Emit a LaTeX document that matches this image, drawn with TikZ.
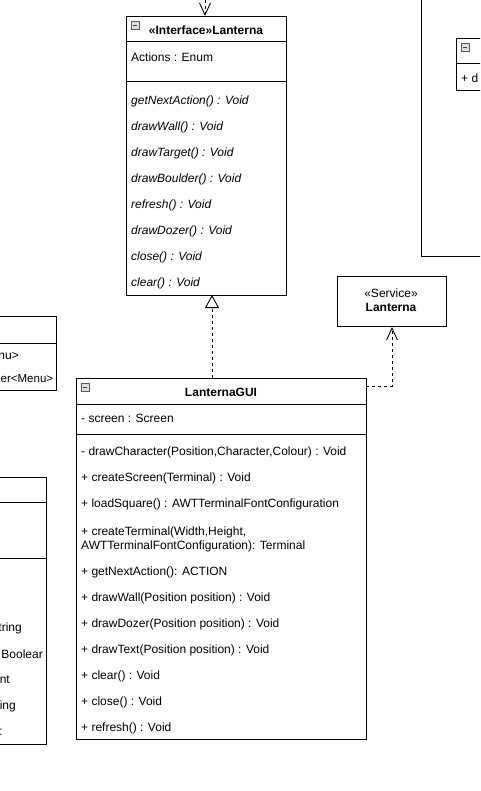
\documentclass[tikz,border=0pt]{standalone}
\usepackage{fontspec}
\setmainfont{Liberation Sans}
\usetikzlibrary{arrows.meta}
\usetikzlibrary{positioning}

\tikzset{
  umlbox/.style={draw, rectangle, line width=1pt, anchor=north west, inner sep=0pt},
  divider/.style={line width=1pt},
  member/.style={anchor=west, inner sep=0pt, font=\fontsize{12}{14}\selectfont},
  opmember/.style={member, font=\fontsize{12}{14}\selectfont\itshape},
  cutmember/.style={anchor=east, inner sep=0pt, font=\fontsize{12}{14}\selectfont},
  title/.style={inner sep=0pt, font=\fontsize{12}{14}\selectfont\bfseries},
  minusicon/.style={draw=gray!70!black, fill=gray!25, rectangle, minimum size=8pt,
    inner sep=0pt, line width=0.6pt,
    path picture={\draw[line width=0.9pt, black!75]
      ([xshift=1.8pt]path picture bounding box.west) --
      ([xshift=-1.8pt]path picture bounding box.east);}},
  depend/.style={line width=0.9pt, dash pattern=on 3pt off 3pt,
    -{Straight Barb[length=12pt, width=11pt, line width=0.9pt]}},
  realize/.style={line width=0.9pt, dash pattern=on 3pt off 3pt,
    -{Triangle[open, length=13pt, width=14pt, line width=0.9pt]}}
}

\begin{document}
\begin{tikzpicture}[x=1pt, y=-1pt]
  \useasboundingbox (0,0) rectangle (480,791);
  \clip (0,0) rectangle (480,791);

  % Interface Lanterna
  \node[umlbox, minimum width=160pt, minimum height=279pt] (iface) at (126,16) {};
  \node[minusicon] (ifaceicon) at (135,25) {};
  \node[title] (ifacetitle) at (206,30) {«Interface»Lanterna};
  \draw[divider] ([yshift=-26pt]iface.north west) -- ([yshift=-26pt]iface.north east);
  \node[member] (ifaceattr) at (131,57) {Actions : Enum};
  \draw[divider] ([yshift=-66pt]iface.north west) -- ([yshift=-66pt]iface.north east);
  \node[opmember] (ifop1) at (131,101) {getNextAction() : Void};
  \node[opmember] (ifop2) at (131,127) {drawWall() : Void};
  \node[opmember] (ifop3) at (131,153) {drawTarget() : Void};
  \node[opmember] (ifop4) at (131,179) {drawBoulder() : Void};
  \node[opmember] (ifop5) at (131,205) {refresh() : Void};
  \node[opmember] (ifop6) at (131,231) {drawDozer() : Void};
  \node[opmember] (ifop7) at (131,257) {close() : Void};
  \node[opmember] (ifop8) at (131,283) {clear() : Void};

  % Service Lanterna
  \node[umlbox, minimum width=109pt, minimum height=50pt] (svc) at (337,276) {};
  \node[inner sep=0pt, font=\fontsize{12}{14}\selectfont] (svcstereo) at (391,293) {«Service»};
  \node[title] (svcname) at (391,307) {Lanterna};

  % LanternaGUI
  \node[umlbox, minimum width=290pt, minimum height=361pt] (gui) at (76,378) {};
  \node[minusicon] (guiicon) at (85,387) {};
  \node[title] (guititle) at (221,392) {LanternaGUI};
  \draw[divider] ([yshift=-26pt]gui.north west) -- ([yshift=-26pt]gui.north east);
  \node[member] (guiattr) at (81,418) {- screen : Screen};
  \draw[divider] ([yshift=-56pt]gui.north west) -- ([yshift=-56pt]gui.north east);
  \node[member] (guiop1) at (81,452) {- drawCharacter(Position,Character,Colour) : Void};
  \node[member] (guiop2) at (81,478) {+ createScreen(Terminal) : Void};
  \node[member] (guiop3) at (81,504) {+ loadSquare() : AWTTerminalFontConfiguration};
  \node[member] (guiop4) at (81,532) {+ createTerminal(Width,Height,};
  \node[member] (guiop4b) at (81,546) {AWTTerminalFontConfiguration): Terminal};
  \node[member] (guiop5) at (81,572) {+ getNextAction(): ACTION};
  \node[member] (guiop6) at (81,598) {+ drawWall(Position position) : Void};
  \node[member] (guiop7) at (81,624) {+ drawDozer(Position position) : Void};
  \node[member] (guiop8) at (81,650) {+ drawText(Position position) : Void};
  \node[member] (guiop9) at (81,676) {+ clear() : Void};
  \node[member] (guiop10) at (81,702) {+ close() : Void};
  \node[member] (guiop11) at (81,728) {+ refresh() : Void};

  % Cut-off class on the right
  \node[umlbox, minimum width=100pt, minimum height=300pt] (rightbox) at (421,-44) {};
  \node[umlbox, minimum width=60pt, minimum height=52pt] (rightinner) at (456,38) {};
  \node[minusicon] (rightinnericon) at (465,47) {};
  \draw[divider] ([yshift=-26pt]rightinner.north west) -- ([yshift=-26pt]rightinner.north east);
  \node[member] (rightop) at (461,78) {+ d};

  % Cut-off classes on the left
  \node[umlbox, minimum width=70pt, minimum height=74pt] (menubox) at (-14,316) {};
  \draw[divider] ([yshift=-27pt]menubox.north west) -- ([yshift=-27pt]menubox.north east);
  \node[cutmember] (menuop1) at (19,356) {nu>};
  \node[member, font=\fontsize{11.5}{14}\selectfont] (menuop2) at (0.5,379) {er<Menu>};

  \node[umlbox, minimum width=60pt, minimum height=267pt] (leftbox) at (-14,477) {};
  \draw[divider] ([yshift=-25pt]leftbox.north west) -- ([yshift=-25pt]leftbox.north east);
  \draw[divider] ([yshift=-81pt]leftbox.north west) -- ([yshift=-81pt]leftbox.north east);
  \node[cutmember] (leftop1) at (22,628) {tring};
  \node[cutmember] (leftop2) at (43,654) {Boolear};
  \node[cutmember] (leftop3) at (10,680) {nt};
  \node[cutmember] (leftop4) at (16,706) {ing};
  \node[cutmember] (leftop5) at (3,732) {:};

  % Connectors
  \coordinate (topend) at (205,0);
  \draw[depend] (topend) -- (topend |- iface.north);

  \coordinate (realtop) at (212,295);
  \coordinate (realbot) at (212,378);
  \draw[realize] (realbot) -- (realtop);

  \coordinate (guiright) at (366,386);
  \draw[depend] (guiright) -| (svc.south);

\end{tikzpicture}
\end{document}
